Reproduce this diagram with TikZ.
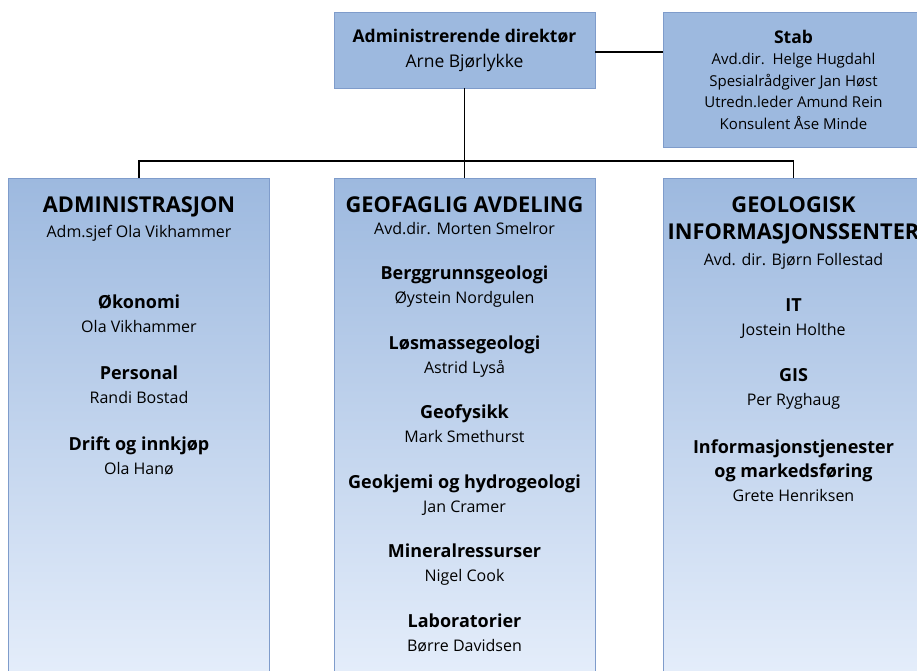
\documentclass[tikz,border=0pt]{standalone}
\usepackage{fontspec}
\setmainfont{Open Sans}
\usetikzlibrary{positioning}
\definecolor{boxblue}{HTML}{9DB9DF}
\definecolor{paleblue}{HTML}{E8F0FC}
\definecolor{edgeblue}{HTML}{7F9CCB}
\newcommand{\unittitle}[1]{{\fontsize{18}{24}\selectfont\bfseries #1}}
\tikzset{
  topbox/.style={draw=edgeblue, fill=boxblue, align=center, inner sep=0pt, minimum width=261pt},
  column/.style={draw=edgeblue, top color=boxblue, bottom color=paleblue, inner sep=0pt, minimum width=261pt, minimum height=522pt},
  head/.style={align=center, anchor=base, inner sep=0pt, font=\fontsize{21.8}{27}\selectfont\bfseries},
  entry/.style={align=center, anchor=base, inner sep=0pt, font=\fontsize{16}{24}\selectfont},
  link/.style={draw=black, line width=1.8pt},
}

\begin{document}
\begin{tikzpicture}[x=1pt, y=-1pt]
  \path[use as bounding box, clip] (0,0) rectangle (917,671);

  % top level
  \node[topbox, minimum height=76pt, font=\fontsize{17.5}{25}\selectfont] (ceo) at (464.5,50) {\textbf{Administrerende direktør}\\Arne Bjørlykke};
  \node[topbox, minimum height=135pt, font=\fontsize{15}{21.5}\selectfont] (stab) at (793.5,79.5) {{\fontsize{17.5}{21.5}\selectfont\bfseries Stab}\\Avd.dir.\ \ Helge Hugdahl\\Spesialrådgiver Jan Høst\\Utredn.leder Amund Rein\\Konsulent Åse Minde};

  % departments
  \node[column] (adm) at (139,439) {};
  \node[column] (geo) at (464.5,439) {};
  \node[column] (ngu) at (793.5,439) {};

  \coordinate (bus) at (464.5,161);
  \draw[link] (ceo.east |- 0,52) -- (stab.west |- 0,52);
  \draw[link] (ceo) -- (bus);
  \draw[link] (bus) -- (geo);
  \draw[link] (adm.north) |- (bus) -| (ngu.north);

  % Administrasjon (y = baseline of last line)
  \node[head] (admhead) at (139,212) {ADMINISTRASJON};
  \node[entry] (admsjef) at (139,237) {Adm.sjef Ola Vikhammer};
  \node[entry] (okonomi) at (139,332) {\unittitle{Økonomi}\\Ola Vikhammer};
  \node[entry] (personal) at (139,403) {\unittitle{Personal}\\Randi Bostad};
  \node[entry] (drift) at (139,474) {\unittitle{Drift og innkjøp}\\Ola Hanø};

  % Geofaglig avdeling
  \node[head] (geohead) at (464.5,212) {GEOFAGLIG AVDELING};
  \node[entry] (geosjef) at (464.5,234) {Avd.dir. Morten Smelror};
  \node[entry] (berggrunn) at (464.5,303) {\unittitle{Berggrunnsgeologi}\\Øystein Nordgulen};
  \node[entry] (losmasse) at (464.5,373) {\unittitle{Løsmassegeologi}\\Astrid Lyså};
  \node[entry] (geofysikk) at (464.5,442) {\unittitle{Geofysikk}\\Mark Smethurst};
  \node[entry] (geokjemi) at (464.5,512) {\unittitle{Geokjemi og hydrogeologi}\\Jan Cramer};
  \node[entry] (mineral) at (464.5,581) {\unittitle{Mineralressurser}\\Nigel Cook};
  \node[entry] (lab) at (464.5,651) {\unittitle{Laboratorier}\\Børre Davidsen};

  % Geologisk informasjonssenter
  \node[head] (nguhead) at (793.5,239) {GEOLOGISK\\INFORMASJONSSENTER};
  \node[entry] (ngusjef) at (793.5,265) {Avd. dir. Bjørn Follestad};
  \node[entry] (it) at (793.5,335) {\unittitle{IT}\\Jostein Holthe};
  \node[entry] (gis) at (793.5,405) {\unittitle{GIS}\\Per Ryghaug};
  \node[entry] (info) at (793.5,501) {\unittitle{Informasjonstjenester}\\\unittitle{og markedsføring}\\Grete Henriksen};
\end{tikzpicture}
\end{document}
